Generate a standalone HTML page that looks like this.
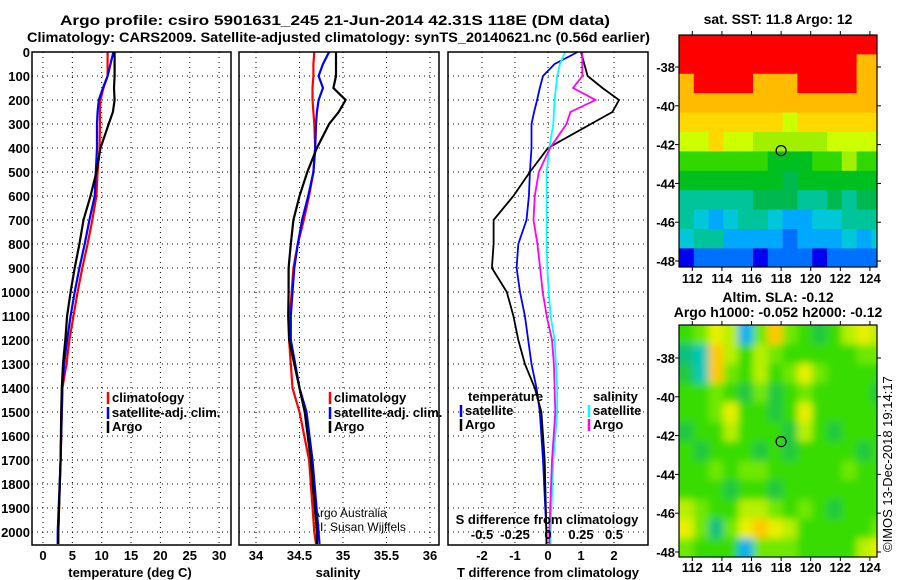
<!DOCTYPE html>
<html><head><meta charset="utf-8"><style>
html,body{margin:0;padding:0;background:#fff;}
svg{display:block;font-family:"Liberation Sans",sans-serif;}
.t{font-weight:bold;font-size:13px;}
.ti{font-weight:bold;font-size:14px;}
</style></head><body>
<svg id="c" width="900" height="580" xmlns="http://www.w3.org/2000/svg">
<defs>
<filter id="blur" x="-5%" y="-5%" width="110%" height="110%"><feGaussianBlur stdDeviation="4"/></filter>
<clipPath id="slaClip"><rect x="679" y="325" width="198" height="232"/></clipPath>
</defs>
<text class="ti" x="60" y="25" textLength="550" lengthAdjust="spacingAndGlyphs">Argo profile: csiro 5901631_245 21-Jun-2014 42.31S 118E (DM data)</text>
<text class="ti" x="27" y="42" textLength="623" lengthAdjust="spacingAndGlyphs">Climatology: CARS2009. Satellite-adjusted climatology: synTS_20140621.nc (0.56d earlier)</text>
<text class="ti" x="778" y="24" text-anchor="middle">sat. SST: 11.8 Argo: 12</text>
<text class="ti" x="778" y="302" text-anchor="middle">Altim. SLA: -0.12</text>
<text class="ti" x="778" y="317" text-anchor="middle">Argo h1000: -0.052 h2000: -0.12</text>
<text x="312" y="517" font-size="12">Argo Australia</text>
<text x="312" y="531" font-size="12">PI: Susan Wijffels</text>
<text x="0" y="0" font-size="13" transform="translate(892,552) rotate(-90)">©IMOS 13-Dec-2018 19:14:17</text>
<g id="g"></g>
</svg>
<script>
// ---- data ----
const depths = [0,50,100,150,200,250,300,400,500,600,700,800,900,1000,1100,1200,1300,1400,1500,1700,2000,2050];
const tempClim = [11.0,11.0,11.0,10.3,9.8,9.7,9.7,9.65,9.3,9.1,8.4,7.6,6.7,5.9,5.2,4.5,4.0,3.3,3.2,3.0,2.6,2.55];
const tempSat  = [12.0,11.5,11.0,10.2,9.5,9.3,9.2,9.2,9.0,8.8,7.9,7.1,6.2,5.4,4.7,4.1,3.6,3.3,3.2,3.0,2.5,2.5];
const tempArgo = [12.2,12.2,12.2,12.1,12.2,11.9,11.2,9.8,9.1,8.1,6.9,6.2,5.4,4.7,4.1,3.8,3.4,3.2,3.1,3.0,2.6,2.6];
const salClim = [34.67,34.66,34.66,34.65,34.65,34.66,34.67,34.68,34.66,34.61,34.55,34.48,34.43,34.41,34.39,34.38,34.40,34.42,34.50,34.61,34.67,34.69];
const salSat  = [34.84,34.77,34.72,34.77,34.72,34.70,34.69,34.68,34.66,34.60,34.53,34.48,34.44,34.42,34.40,34.40,34.45,34.50,34.58,34.65,34.72,34.73];
const salArgo = [34.92,34.92,34.92,34.89,35.03,34.95,34.84,34.70,34.59,34.50,34.43,34.40,34.375,34.375,34.37,34.38,34.44,34.50,34.56,34.63,34.70,34.70];
const dTsat  = [0.9,0.2,-0.15,-0.25,-0.33,-0.42,-0.5,-0.5,-0.55,-0.58,-0.65,-0.9,-0.95,-0.85,-0.7,-0.6,-0.5,-0.35,-0.25,-0.15,-0.05,-0.05];
const dTargo = [1.0,1.1,1.2,1.65,2.15,1.95,1.3,0.0,-0.55,-1.05,-1.65,-1.65,-1.7,-1.25,-1.05,-0.9,-0.7,-0.4,-0.2,-0.1,-0.05,-0.05];
const dSsat  = [0.13,0.09,0.07,0.06,0.05,0.045,0.04,0.01,-0.01,-0.01,-0.01,-0.01,-0.005,0.005,0.02,0.05,0.06,0.07,0.07,0.04,0.02,0.02];
const dSargo = [0.26,0.26,0.26,0.19,0.36,0.17,0.14,0.015,-0.07,-0.10,-0.11,-0.08,-0.06,-0.04,-0.01,0.03,0.045,0.05,0.055,0.03,0.01,0.01];
const depthTicks = [0,100,200,300,400,500,600,700,800,900,1000,1100,1200,1300,1400,1500,1600,1700,1800,1900,2000];
const tempTicks = [0,5,10,15,20,25,30];
const salTicks = [34,34.5,35,35.5,36];
const salTickLabels = ['34','34.5','35','35.5','36'];
const dTTicks = [-2,-1,0,1,2];
const dSTicks = [-0.5,-0.25,0,0.25,0.5];
const dSTickLabels = ['-0.5','-0.25','0','0.25','0.5'];
const lonTicks = [112,114,116,118,120,122,124];
const latTicks = [-38,-40,-42,-44,-46,-48];
const argoLon = 118, argoLat = -42.31;
const sstGrid = [
[15,15,15,15,15,15,15,15,15,15,15,15,15,15],
[15,15,15,15,15,15,15,15,15,15,15,14.5,13.5,13.5],
[13.5,14.5,15,15,14.5,13.6,13.8,13.5,15,15,15,14.5,13.5,13.5],
[13.3,13.3,13.4,13.3,13.5,13.3,13.4,13.3,13.3,13.2,13.4,13.3,13.3,13.4],
[12.8,13.0,13.0,13.0,13.1,12.8,12.7,12.5,12.6,12.8,12.7,12.8,13.0,12.9],
[12.2,12.4,12.6,12.5,12.3,12.0,11.8,11.7,12.0,11.8,12.2,12.4,12.5,12.3],
[11.4,11.5,11.4,11.4,11.2,11.2,11.0,11.0,11.1,11.4,11.6,11.9,11.6,11.4],
[10.9,10.9,10.9,10.9,10.8,10.8,10.8,10.7,10.8,10.8,10.9,10.9,10.8,10.8],
[10.3,10.4,10.3,10.3,10.4,10.5,10.5,10.5,10.4,10.4,10.5,10.4,10.5,10.6],
[10.2,9.6,9.4,9.6,10.0,10.1,9.6,9.5,9.5,9.6,9.8,10.0,10.2,10.3],
[9.6,10.2,10.0,9.2,9.3,9.5,9.3,9.1,9.2,9.3,9.5,9.6,9.3,9.6],
[8.6,9.0,9.1,9.0,8.8,8.7,9.0,9.0,8.8,8.6,9.0,9.0,9.1,9.0]];
const slaGrid = [
[0,0.3,1.5,0.5,-1.5,0.2,1.8,0.3,0,-0.3,0,0.5,1.2,0.8],
[-0.5,-1.2,2.2,0.5,0,0.8,0.3,0,0,0,0,0,0.4,0.2],
[-0.2,-1.0,1.8,0.3,0,0.6,0,0.4,1.3,0.3,0,0,0,0],
[0,0,0.3,0,-0.2,0.3,-0.3,0,0.3,0,0,0,0,-0.2],
[0,0,0.3,1.1,0,0,-0.2,0,1.0,0,0,0,0,0],
[-0.2,0,0,0.7,0,0,0,-0.2,0.5,0,-0.2,0,0,0],
[0,-0.2,0,0,0,-0.2,0,-0.3,0,0,0,0,-0.2,0],
[0,0,0.4,0,0.2,0.3,0,0,0,0,0,0.2,0,0],
[0,0,0,-0.2,0,0,-0.2,0,0,0,0,0,0,0],
[0.8,0.4,0,0,0.6,0.9,0.3,0,0.3,0,-0.2,0,0,0],
[1.0,0.3,-0.4,0.4,1.4,1.6,1.0,0.5,0,0,0,0,0,0.2],
[0.2,0,0,0,-1.5,0.3,0.3,0.3,0,0,0,0,0.6,1.2]];

const NS='http://www.w3.org/2000/svg';
const G=document.getElementById('g');
function mk(tag,attrs,parent){const e=document.createElementNS(NS,tag);for(const k in attrs)e.setAttribute(k,attrs[k]);(parent||G).appendChild(e);return e;}
function txt(s,x,y,anchor,cls,parent){const e=mk('text',{x:x,y:y,'text-anchor':anchor||'middle',class:cls||'t'},parent);e.textContent=s;return e;}

const yTop=52, yBot=545;
function yScale(d){return yTop + d*0.24;}
function panel(name){
  const g=mk('g',{});
  
  
  return g;
}
function grid(g,x0,x1,xs){
  depthTicks.forEach(d=>{const l=mk('line',{x1:x0,x2:x1,y1:yScale(d),y2:yScale(d),stroke:'#000','stroke-dasharray':'1,4','stroke-width':1},g);
    
    });
  xs.forEach(x=>{const l=mk('line',{x1:x,x2:x,y1:yTop,y2:yBot,stroke:'#000','stroke-dasharray':'1,4','stroke-width':1},g);
    
    });
}
function frame(g,x0,x1){const r=mk('rect',{x:x0,y:yTop,width:x1-x0,height:yBot-yTop,fill:'none',stroke:'#000','stroke-width':1.5},g);
  
  }
function line(g,xs,vals,color,name,w){
  const pts=vals.map((v,i)=>xs(v).toFixed(1)+','+yScale(depths[i]).toFixed(1)).join(' ');
  const p=mk('polyline',{points:pts,fill:'none',stroke:color,'stroke-width':w||2.2,'stroke-linejoin':'miter'},g);
  
  
}
function legend(g,x,y,color,label){
  const l=mk('line',{x1:x,x2:x,y1:y-10,y2:y+2,stroke:color,'stroke-width':2.5},g);
  
  
  const t=txt(label,x+4,y,'start','t',g);
  
  
}

const xT=v=>43+v*5.87;
const p1=panel('temperature-panel');
grid(p1,32,231,tempTicks.map(xT));
line(p1,xT,tempClim,'#f00','temp-climatology-line');
line(p1,xT,tempSat,'#00f','temp-satellite-line');
line(p1,xT,tempArgo,'#000','temp-argo-line');
frame(p1,32,231);
depthTicks.forEach(d=>{const t=txt(String(d),30,yScale(d)+5,'end','t',p1);
  
  });
tempTicks.forEach(v=>{const t=txt(String(v),xT(v),560,'middle','t',p1);
  
  });
const xt1=txt('temperature (deg C)',130,577,'middle','t',p1);


legend(p1,108,402,'#f00','climatology');
legend(p1,108,417,'#00f','satellite-adj. clim.');
legend(p1,108,431,'#000','Argo');

const xS=v=>256+(v-34)*87;
const p2=panel('salinity-panel');
grid(p2,239,439,salTicks.map(xS));
line(p2,xS,salClim,'#f00','sal-climatology-line');
line(p2,xS,salSat,'#00f','sal-satellite-line');
line(p2,xS,salArgo,'#000','sal-argo-line');
frame(p2,239,439);
salTicks.forEach((v,i)=>{const t=txt(salTickLabels[i],xS(v),560,'middle','t',p2);
  
  });
const xt2=txt('salinity',338,577,'middle','t',p2);


legend(p2,330,402,'#f00','climatology');
legend(p2,330,417,'#00f','satellite-adj. clim.');
legend(p2,330,431,'#000','Argo');

const xD=v=>548+v*33;
const xDS=v=>548+v*132;
const p3=panel('difference-panel');
grid(p3,448,648,dTTicks.map(xD));
line(p3,xD,dTsat,'#00f','dT-satellite-line',1.8);
line(p3,xD,dTargo,'#000','dT-argo-line',1.8);
line(p3,xDS,dSsat,'#0ff','dS-satellite-line',1.8);
line(p3,xDS,dSargo,'#f0f','dS-argo-line',1.8);
frame(p3,448,648);
dTTicks.forEach(v=>{const t=txt(String(v),xD(v),560,'middle','t',p3);
  
  });
dSTicks.forEach((v,i)=>{const t=txt(dSTickLabels[i],xDS(v),539,'middle','t',p3);
  
  });
const xt3=txt('T difference from climatology',548,577,'middle','t',p3);


const xt4=txt('S difference from climatology',547,524,'middle','t',p3);


const lt=txt('temperature',468,401,'start','t',p3);


const ls=txt('salinity',593,401,'start','t',p3);


legend(p3,461,415,'#00f','satellite');
legend(p3,461,429,'#000','Argo');
legend(p3,589,415,'#0ff','satellite');
legend(p3,589,429,'#f0f','Argo');

const mx0=679,mx1=877,lon0=111.1,pxLon=14.8;
function sstColor(v){
  if(v>=14)return '#ff0000';
  if(v>=13.15)return '#ffbb00';
  if(v>=12.6)return '#ffd800';
  if(v>=12.2)return '#ccff00';
  if(v>=11.7)return '#a0f000';
  if(v>=11.2)return '#30d800';
  if(v>=10.75)return '#00c020';
  if(v>=10.45)return '#00b850';
  if(v>=10.0)return '#00c49a';
  if(v>=9.55)return '#00c8d8';
  if(v>=9.15)return '#00a8ff';
  if(v>=8.75)return '#0070ff';
  return '#0000f0';
}
function slaColor(v){
  if(v>=1.6)return '#ffc800';
  if(v>=1.0)return '#e8f000';
  if(v>=0.5)return '#b8f000';
  if(v>=0.2)return '#70e800';
  if(v>-0.15)return '#38dc00';
  if(v>-0.4)return '#20c840';
  if(v>-1.0)return '#10c080';
  if(v>-1.4)return '#00c8b8';
  return '#00b0f0';
}
function drawMap(name,grid,colorFn,yT,yB,lat0,pxLat,labelY,smooth){
  const g=mk('g',{});
  
  
  let cg=g;
  if(smooth){
    const outer=mk('g',{'clip-path':'url(#slaClip)'},g);
    mk('rect',{x:mx0,y:yT,width:mx1-mx0,height:yB-yT,fill:colorFn(0)},outer);
    cg=mk('g',{filter:'url(#blur)'},outer);
  }
  const latTop=lat0;
  const yLat=la=>yT+(latTop-la)*pxLat;
  const xLon=lo=>mx0+(lo-lon0)*pxLon;
  grid.forEach((row,r)=>row.forEach((v,c)=>{
    let x=xLon(lon0+c), y=yLat(latTop-r);
    let w=Math.min(pxLon,mx1-x), h=Math.min(pxLat,yB-y);
    if(smooth){ if(c===0){x-=8;w+=8;} if(c===row.length-1){w+=10;} if(r===0){y-=8;h+=8;} if(r===grid.length-1){h+=10;} }
    const cell=mk('rect',{x:x,y:y,width:w+0.5,height:h+0.5,fill:colorFn(v)},cg);
    
    
  }));
  const fr=mk('rect',{x:mx0,y:yT,width:mx1-mx0,height:yB-yT,fill:'none',stroke:'#000','stroke-width':1.2},g);
  
  
  lonTicks.forEach(lo=>{
    mk('line',{x1:xLon(lo),x2:xLon(lo),y1:yB,y2:yB+4,stroke:'#000'},g);
    mk('line',{x1:xLon(lo),x2:xLon(lo),y1:yT,y2:yT-4,stroke:'#000'},g);
    const t=txt(String(lo),xLon(lo),labelY,'middle','t',g);
    
    
  });
  latTicks.forEach(la=>{
    mk('line',{x1:mx0-4,x2:mx0,y1:yLat(la),y2:yLat(la),stroke:'#000'},g);
    mk('line',{x1:mx1,x2:mx1+4,y1:yLat(la),y2:yLat(la),stroke:'#000'},g);
    const t=txt(String(la),675,yLat(la)+5,'end','t',g);
    
    
  });
  const c=mk('circle',{cx:xLon(argoLon),cy:yLat(argoLat),r:5,fill:'none',stroke:'#000','stroke-width':1.2},g);
  
  
}
drawMap('sst-map',sstGrid,sstColor,35,267,-36.35,19.4,283,false);
drawMap('sla-map',slaGrid,slaColor,325,557,-36.3,19.4,572,true);
</script>
</body></html>
